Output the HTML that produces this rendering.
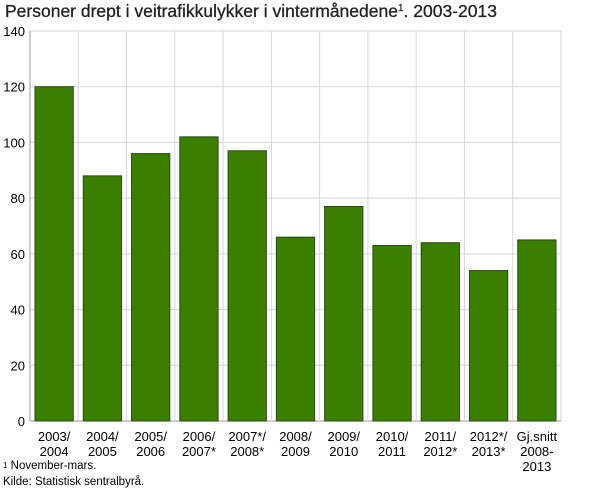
<!DOCTYPE html>
<html><head><meta charset="utf-8"><style>
body{margin:0;background:#fff;width:610px;height:488px;overflow:hidden;font-family:"Liberation Sans","DejaVu Sans",sans-serif}
</style></head><body>
<svg id="chart" width="610" height="488" xmlns="http://www.w3.org/2000/svg">
<text x="5" y="17" font-size="17.5" fill="#222" stroke="#222" stroke-width="0.3" font-family="Liberation Sans, sans-serif">Personer drept i veitrafikkulykker i vintermånedene<tspan font-size="10" dy="-6">1</tspan><tspan dy="6">. 2003-2013</tspan></text>
<g id="grid"></g><g id="bars"></g><g id="xlabels"></g><g id="ylabels"></g>
<text x="3" y="469" font-size="11.5" fill="#000"><tspan font-size="8" dy="-1">1</tspan><tspan dy="1"> November-mars.</tspan></text>
<text x="3" y="485" font-size="11.5" fill="#000">Kilde: Statistisk sentralbyrå.</text>
</svg>
<script>
const categories=[["2003/","2004"],["2004/","2005"],["2005/","2006"],["2006/","2007*"],["2007*/","2008*"],["2008/","2009"],["2009/","2010"],["2010/","2011"],["2011/","2012*"],["2012*/","2013*"],["Gj.snitt","2008-","2013"]];
const values=[120,88,96,102,97,66,77,63,64,54,65];
const yTicks=[0,20,40,60,80,100,120,140];
const NS="http://www.w3.org/2000/svg";
const L=30,R=561,T=31,B=421,yMax=140;
const bw=(R-L)/categories.length;
function y(v){return B-(v/yMax)*(B-T);}
function x(i){return L+i*bw;}
function mk(tag,attrs,parent){const e=document.createElementNS(NS,tag);for(const k in attrs)e.setAttribute(k,attrs[k]);parent.appendChild(e);return e;}
const grid=document.getElementById('grid'),bars=document.getElementById('bars'),xl=document.getElementById('xlabels'),yl=document.getElementById('ylabels');
yTicks.forEach(t=>{
 const g=mk('line',{x1:L,x2:R,y1:y(t),y2:y(t),stroke:t===0?'#999':'#d6d6d6','stroke-width':1},grid);
 
 
 const tx=mk('text',{x:L-5,y:y(t)+5,'text-anchor':'end','font-size':13,fill:'#000'},yl);
 tx.textContent=t;
 
 
});
for(let i=0;i<=categories.length;i++){
 const g=mk('line',{x1:x(i),x2:x(i),y1:T,y2:B,stroke:i===0?'#999':'#d6d6d6','stroke-width':1},grid);
 
 
}
values.forEach((v,i)=>{
 const r=mk('rect',{x:x(i)+5,y:y(v),width:bw-10,height:B-y(v),fill:'#3b7f00',stroke:'#2a4a10','stroke-width':1},bars);
 
 
 categories[i].forEach((s,j)=>{
  const t=mk('text',{x:x(i)+bw/2,y:441+j*15,'text-anchor':'middle','font-size':13,fill:'#000'},xl);
  t.textContent=s;
  
  
 });
});
</script>
</body></html>
